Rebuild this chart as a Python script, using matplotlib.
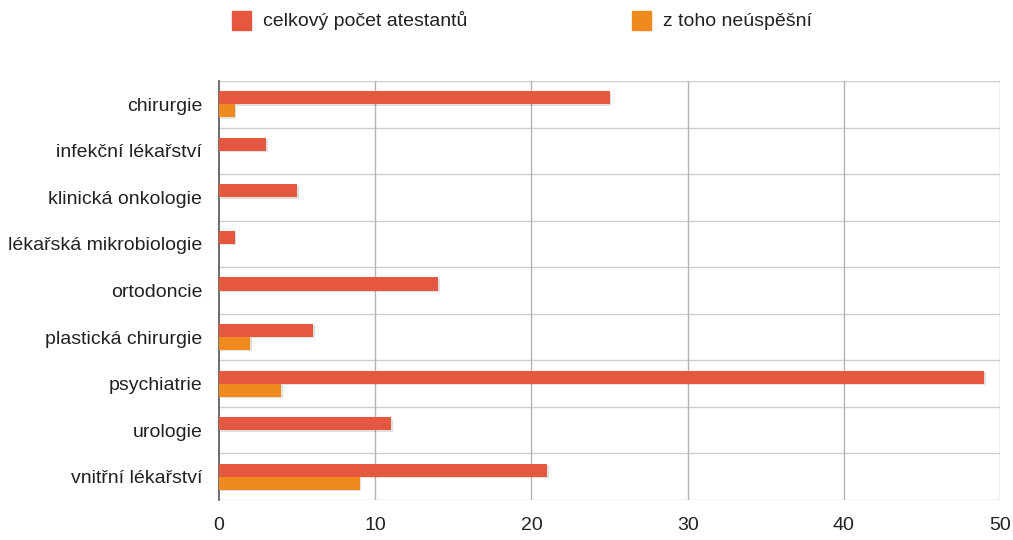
import matplotlib
matplotlib.use("Agg")
import matplotlib.pyplot as plt
import numpy as np
from matplotlib.patches import Rectangle

categories = [
    "chirurgie",
    "infekční lékařství",
    "klinická onkologie",
    "lékařská mikrobiologie",
    "ortodoncie",
    "plastická chirurgie",
    "psychiatrie",
    "urologie",
    "vnitřní lékařství",
]
total = [25, 3, 5, 1, 14, 6, 49, 11, 21]
failed = [1, 0, 0, 0, 0, 2, 4, 0, 9]
series_labels = ["celkový počet atestantů", "z toho neúspěšní"]
x_ticks = [0, 10, 20, 30, 40, 50]

RED = "#E5573F"
ORANGE = "#F18A1E"

plt.rcParams["font.family"] = ["Liberation Sans", "DejaVu Sans"]

fig = plt.figure(figsize=(10.13, 5.4), dpi=100)
ax = fig.add_axes([219 / 1013, 40 / 540, 781 / 1013, 419 / 540])

y = np.arange(len(categories))
h = 0.28
# light shadow under the bars
for vals, off in ((total, -h / 2), (failed, h / 2)):
    ax.barh(y + off + 0.03, vals, height=h, left=0.12, color="#000000",
            alpha=0.12, zorder=2, linewidth=0)
ax.barh(y - h / 2, total, height=h, color=RED, zorder=3, linewidth=0)
ax.barh(y + h / 2, failed, height=h, color=ORANGE, zorder=3, linewidth=0)

ax.set_xlim(0, 50)
ax.set_ylim(len(categories) - 0.5, -0.5)
ax.set_xticks(x_ticks)
ax.set_yticks(y)
ax.set_yticklabels(categories)
ax.tick_params(axis="both", length=0, labelsize=14, colors="#222222")
ax.tick_params(axis="x", pad=12)
ax.tick_params(axis="y", pad=12)

for b in np.arange(-0.5, len(categories) + 0.5, 1):
    ax.axhline(b, color="#cfcfcf", linewidth=1, zorder=1)
for t in x_ticks[1:]:
    ax.axvline(t, color="#b4b4b4", linewidth=1, zorder=1)

for s in ("top", "right", "bottom"):
    ax.spines[s].set_visible(False)
ax.spines["left"].set_color("#555555")
ax.spines["left"].set_linewidth(1.2)

# legend on top
for (x0, color, label) in ((232, RED, series_labels[0]), (632, ORANGE, series_labels[1])):
    fig.patches.append(Rectangle((x0 / 1013, 1 - 30 / 540), 19 / 1013, 19 / 540,
                                 transform=fig.transFigure, color=color))
    fig.text((x0 + 31) / 1013, 1 - 26 / 540, label, fontsize=14,
             va="baseline", ha="left", color="#222222")

fig.savefig("out.png", dpi=100)
